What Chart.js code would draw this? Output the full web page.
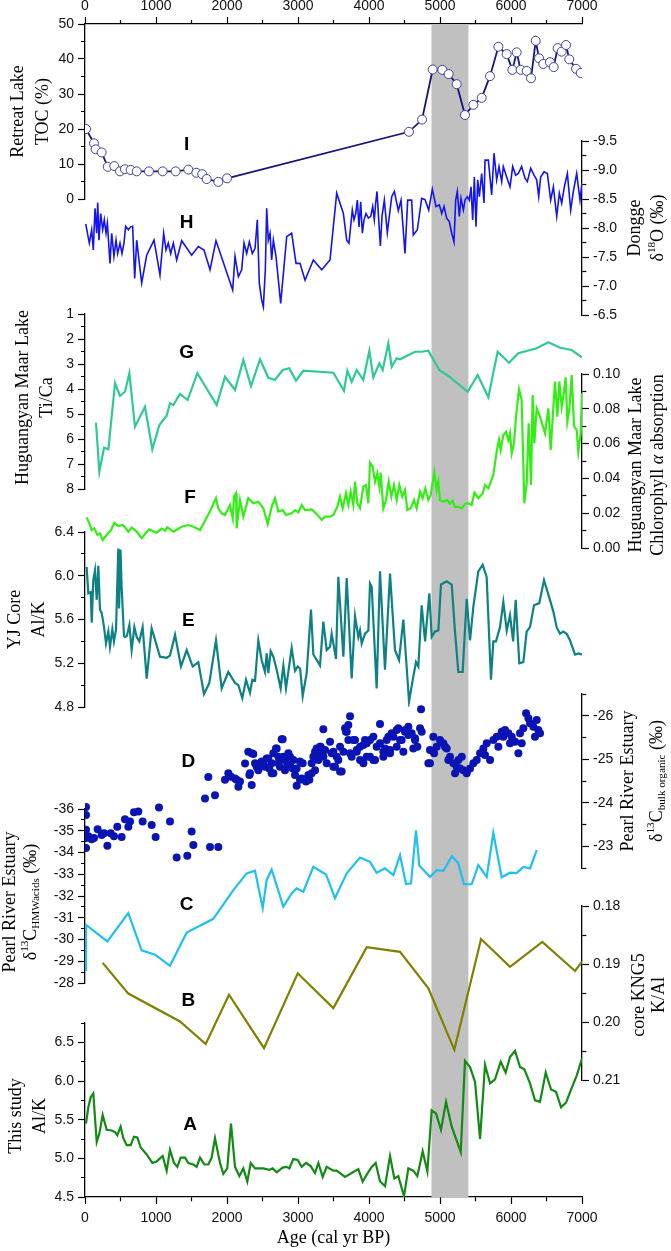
<!DOCTYPE html>
<html>
<head>
<meta charset="utf-8">
<script src="https://cdn.jsdelivr.net/npm/chart.js@4.4.1/dist/chart.umd.min.js"></script>
<style>
  html, body { margin: 0; padding: 0; background: #fff; }
  #wrap { width: 671px; height: 1251px; }
</style>
</head>
<body>
<div id="wrap"><canvas id="chart"></canvas></div>
<script>
// ---- data: [age (cal yr BP), value] ----
const shadedAges = [4880, 5400];

// I - Retreat Lake TOC (%)
const tocRetreat = [[14,20.0],[127,15.9],[150,14.2],[235,13.3],[320,9.2],[413,9.4],[493,7.9],[563,8.5],[643,8.3],[728,7.9],[901,7.9],[1094,7.9],[1277,7.9],[1455,8.4],[1568,7.5],[1652,7.1],[1714,5.7],[1878,4.9],[2000,5.9],[4563,19.2],[4747,22.7],[4897,37.0],[5033,36.9],[5122,35.7],[5235,32.8],[5352,24.0],[5470,26.9],[5587,28.9],[5704,35.1],[5822,43.5],[5939,41.4],[6019,36.9],[6080,41.9],[6136,36.9],[6221,36.6],[6282,34.5],[6348,45.2],[6395,40.2],[6455,38.6],[6549,39.1],[6601,37.7],[6657,43.1],[6713,42.1],[6775,44.0],[6821,39.9],[6916,37.2],[6982,36.0]];

// H - Dongge d18O (permil)
const d18oDongge = [[10,-8.07],[61,-7.74],[94,-7.97],[117,-7.62],[141,-8.34],[165,-7.91],[179,-8.44],[197,-7.79],[221,-8.25],[249,-7.97],[272,-8.14],[296,-7.91],[315,-8.08],[352,-7.39],[376,-7.91],[408,-7.51],[437,-7.79],[460,-7.56],[493,-7.74],[521,-7.56],[549,-7.74],[573,-8.03],[610,-7.97],[643,-8.02],[671,-8.03],[700,-7.13],[728,-7.79],[798,-7.05],[869,-7.53],[972,-7.79],[1056,-7.19],[1108,-7.91],[1141,-7.62],[1173,-7.74],[1207,-7.56],[1244,-7.74],[1291,-7.45],[1362,-7.78],[1502,-7.53],[1596,-7.68],[1676,-7.62],[1761,-7.28],[1845,-7.78],[2080,-6.93],[2113,-7.51],[2160,-7.16],[2207,-7.28],[2240,-7.74],[2277,-7.56],[2315,-7.76],[2357,-7.56],[2395,-7.65],[2427,-8.14],[2455,-7.05],[2488,-6.76],[2512,-6.64],[2540,-7.28],[2559,-8.34],[2582,-7.79],[2606,-7.91],[2629,-7.45],[2653,-7.79],[2690,-7.51],[2756,-6.70],[2841,-7.85],[2911,-7.91],[2972,-7.39],[3028,-7.39],[3099,-7.10],[3216,-7.45],[3334,-7.28],[3451,-7.45],[3545,-8.60],[3639,-8.25],[3686,-7.79],[3718,-7.74],[3765,-8.31],[3789,-8.14],[3813,-8.25],[3836,-8.48],[3859,-8.02],[3883,-8.45],[3906,-7.91],[3930,-8.14],[3958,-8.25],[3991,-8.17],[4024,-8.20],[4052,-8.37],[4075,-8.14],[4094,-8.43],[4113,-8.63],[4137,-8.14],[4160,-7.69],[4183,-8.20],[4216,-8.48],[4258,-7.92],[4320,-8.54],[4357,-8.63],[4413,-8.30],[4451,-8.48],[4507,-7.56],[4545,-8.48],[4601,-8.48],[4624,-7.88],[4681,-7.97],[4742,-8.51],[4789,-8.49],[4841,-8.31],[4892,-8.67],[4944,-8.37],[4991,-8.40],[5024,-8.25],[5057,-8.37],[5094,-8.17],[5131,-8.11],[5165,-7.91],[5197,-7.76],[5221,-8.48],[5244,-8.63],[5272,-8.20],[5296,-8.51],[5329,-8.31],[5352,-8.48],[5385,-8.54],[5413,-8.48],[5437,-8.71],[5460,-8.14],[5484,-8.88],[5507,-8.02],[5531,-8.83],[5554,-8.54],[5587,-8.94],[5620,-8.43],[5634,-9.17],[5681,-9.17],[5728,-8.57],[5761,-9.29],[5798,-8.83],[5831,-9.06],[5869,-8.80],[5892,-9.06],[5939,-8.88],[5986,-8.71],[6024,-9.06],[6066,-8.91],[6103,-8.94],[6150,-9.06],[6197,-8.86],[6230,-8.80],[6277,-9.03],[6324,-8.91],[6362,-8.83],[6390,-8.54],[6418,-8.88],[6465,-8.97],[6512,-8.94],[6559,-8.48],[6597,-8.71],[6644,-8.20],[6681,-8.60],[6714,-8.43],[6751,-8.71],[6794,-8.94],[6841,-8.31],[6878,-8.63],[6925,-8.94],[6972,-8.48],[7000,-8.77]];

// G - Huguangyan Maar Lake Ti/Ca
const tiCaHuguangyan = [[155,5.35],[202,7.31],[268,6.35],[329,6.41],[423,3.77],[493,4.28],[563,4.11],[625,3.37],[704,5.51],[845,4.71],[948,6.41],[1047,5.44],[1150,5.07],[1197,4.57],[1244,4.64],[1338,4.20],[1446,4.44],[1582,3.37],[1855,4.64],[1972,3.51],[2113,4.04],[2230,2.84],[2338,3.88],[2465,2.81],[2582,3.55],[2676,3.64],[2784,3.24],[2878,3.17],[2972,3.67],[3075,3.27],[3498,3.35],[3648,4.07],[3695,3.27],[3756,3.71],[3827,3.24],[3873,3.44],[3920,3.64],[4005,2.47],[4061,3.53],[4146,2.97],[4193,3.24],[4272,2.17],[4320,3.11],[4390,2.77],[4437,2.81],[4648,2.51],[4742,2.51],[4836,2.47],[4991,3.24],[5141,3.53],[5390,4.11],[5531,3.44],[5681,4.33],[5812,2.51],[5972,2.95],[6103,2.57],[6362,2.37],[6526,2.13],[6690,2.35],[6855,2.44],[7000,2.73]];

// F - Huguangyan Maar Lake chlorophyll a absorption
const chlHuguangyan = [[23,0.0176],[61,0.0142],[94,0.0103],[131,0.0113],[174,0.0075],[211,0.0084],[249,0.0046],[305,0.0075],[366,0.0103],[413,0.0145],[469,0.0126],[530,0.0132],[563,0.0119],[610,0.0094],[657,0.0117],[728,0.0094],[798,0.0056],[901,0.0107],[1009,0.0088],[1080,0.0111],[1127,0.0099],[1159,0.0119],[1244,0.0094],[1362,0.0122],[1455,0.0132],[1526,0.0122],[1620,0.0103],[1676,0.0145],[1770,0.0218],[1845,0.0286],[1878,0.0228],[1925,0.0199],[1972,0.0190],[2042,0.0247],[2080,0.0171],[2099,0.0295],[2127,0.0314],[2136,0.0113],[2183,0.0276],[2230,0.0180],[2300,0.0286],[2371,0.0257],[2441,0.0266],[2512,0.0228],[2573,0.0138],[2629,0.0237],[2676,0.0286],[2723,0.0209],[2784,0.0218],[2831,0.0190],[2911,0.0199],[2958,0.0218],[3005,0.0205],[3052,0.0247],[3099,0.0218],[3193,0.0222],[3254,0.0199],[3334,0.0161],[3381,0.0180],[3451,0.0180],[3498,0.0190],[3554,0.0237],[3592,0.0295],[3629,0.0228],[3676,0.0314],[3709,0.0247],[3742,0.0324],[3779,0.0247],[3803,0.0381],[3836,0.0257],[3873,0.0228],[3920,0.0352],[3958,0.0362],[3991,0.0257],[4014,0.0490],[4052,0.0467],[4085,0.0381],[4117,0.0429],[4146,0.0352],[4164,0.0433],[4202,0.0228],[4240,0.0276],[4277,0.0381],[4315,0.0295],[4352,0.0362],[4390,0.0276],[4427,0.0362],[4469,0.0295],[4507,0.0333],[4540,0.0218],[4587,0.0228],[4634,0.0276],[4671,0.0228],[4719,0.0324],[4756,0.0286],[4794,0.0343],[4836,0.0276],[4869,0.0305],[4920,0.0435],[4953,0.0333],[4976,0.0381],[5000,0.0276],[5047,0.0266],[5103,0.0276],[5141,0.0253],[5178,0.0272],[5211,0.0234],[5258,0.0237],[5305,0.0228],[5352,0.0253],[5390,0.0257],[5446,0.0247],[5484,0.0318],[5540,0.0286],[5601,0.0314],[5634,0.0362],[5681,0.0343],[5751,0.0420],[5798,0.0553],[5831,0.0621],[5855,0.0563],[5892,0.0649],[5930,0.0668],[5963,0.0621],[5986,0.0659],[6010,0.0544],[6042,0.0602],[6071,0.0755],[6113,0.0912],[6150,0.0851],[6188,0.0257],[6221,0.0372],[6249,0.0717],[6282,0.0362],[6305,0.0879],[6329,0.0602],[6362,0.0803],[6409,0.0755],[6479,0.0659],[6526,0.0803],[6559,0.0563],[6597,0.0812],[6620,0.0956],[6653,0.0755],[6681,0.0956],[6714,0.0812],[6737,0.0870],[6770,0.0981],[6794,0.0726],[6821,0.0793],[6855,0.0994],[6888,0.0701],[6925,0.0678],[6948,0.0553],[6982,0.0659],[7000,0.0889]];

// E - YJ core Al/K
const alkYJ = [[23,6.08],[47,5.84],[80,5.85],[95,5.57],[117,5.96],[141,6.05],[165,5.78],[188,6.09],[211,5.69],[235,5.66],[268,5.53],[296,5.38],[329,5.49],[352,5.35],[385,5.51],[408,5.40],[437,5.51],[469,6.25],[480,5.70],[500,6.24],[516,5.90],[549,5.45],[563,5.44],[590,5.45],[625,5.55],[657,5.32],[695,5.53],[728,5.44],[765,5.40],[812,5.53],[869,5.06],[939,5.52],[1056,5.26],[1150,5.25],[1197,5.27],[1268,5.46],[1352,5.17],[1432,5.32],[1517,5.17],[1596,5.21],[1676,4.92],[1751,5.02],[1845,5.41],[1925,4.97],[2018,5.12],[2113,5.02],[2160,5.00],[2216,4.88],[2268,5.05],[2324,4.93],[2357,5.05],[2395,5.04],[2441,5.41],[2488,5.23],[2535,5.12],[2559,5.29],[2582,5.11],[2615,5.31],[2653,5.26],[2700,5.14],[2756,4.97],[2794,5.18],[2831,4.97],[2911,5.34],[2958,5.13],[2996,5.17],[3030,5.15],[3066,4.90],[3122,5.11],[3183,5.69],[3216,5.28],[3310,5.18],[3357,5.58],[3404,5.32],[3451,5.35],[3474,5.47],[3535,5.24],[3568,5.99],[3639,5.26],[3686,5.98],[3756,5.06],[3803,5.63],[3850,5.44],[3873,5.50],[3897,5.38],[3944,5.47],[3991,5.50],[4014,5.93],[4038,5.90],[4108,4.97],[4155,6.04],[4225,5.14],[4296,6.02],[4366,5.32],[4423,5.23],[4484,5.60],[4564,4.85],[4625,5.08],[4662,5.21],[4695,5.17],[4742,5.73],[4790,5.40],[4850,5.84],[4883,5.44],[4930,5.49],[4977,5.50],[5014,5.92],[5094,5.95],[5165,5.92],[5210,5.50],[5258,5.12],[5319,5.12],[5376,5.79],[5423,5.41],[5470,5.72],[5540,6.04],[5601,6.10],[5657,5.99],[5718,5.05],[5751,5.40],[5789,5.40],[5845,5.53],[5892,5.76],[5940,5.50],[5986,5.64],[6030,5.40],[6066,5.78],[6117,5.20],[6174,5.21],[6221,5.49],[6268,5.53],[6324,5.73],[6399,5.75],[6465,5.96],[6549,5.78],[6597,5.67],[6643,5.53],[6690,5.47],[6737,5.49],[6784,5.47],[6831,5.41],[6902,5.28],[6949,5.29],[7000,5.28]];

// D - Pearl River Estuary d13C bulk organic (permil), discrete samples
const d13cBulk = [[14,-23.90],[14,-23.72],[14,-23.38],[14,-23.19],[14,-22.96],[47,-23.23],[94,-23.16],[127,-23.19],[178,-23.39],[235,-23.26],[268,-23.30],[315,-23.01],[362,-23.30],[408,-23.23],[455,-23.45],[516,-23.21],[563,-23.62],[610,-23.45],[634,-23.57],[690,-23.78],[751,-23.80],[812,-23.57],[939,-23.49],[995,-23.21],[1042,-23.89],[1197,-23.57],[1291,-22.74],[1441,-22.78],[1502,-23.34],[1526,-23.03],[1761,-22.98],[1878,-22.98],
  [1690,-24.10],[1737,-24.59],[1831,-24.17],[1972,-24.53],[2019,-24.68],[2056,-24.60],[2113,-24.56],[2136,-24.53],[2160,-24.37],[2183,-24.49],[2254,-24.90],[2300,-25.17],[2315,-24.64],[2324,-24.68],[2348,-25.14],[2348,-24.41],[2371,-25.12],[2395,-24.91],[2418,-24.83],[2441,-24.75],[2465,-24.91],[2488,-24.95],[2512,-24.87],[2535,-24.83],[2559,-25.02],[2582,-25.02],[2596,-24.79],[2629,-24.68],[2629,-24.91],[2653,-25.14],[2653,-24.68],[2690,-25.25],[2700,-25.25],[2723,-24.91],[2723,-25.06],[2746,-24.83],[2770,-25.46],[2784,-25.46],[2794,-25.06],[2817,-24.75],[2817,-24.98],[2850,-24.87],[2864,-25.14],[2887,-24.87],[2887,-25.06],[2925,-24.79],[2934,-24.98],[2958,-24.64],[2981,-24.79],[2981,-24.39],[3028,-24.95],[3028,-24.53],[3052,-24.56],[3066,-24.91],[3099,-24.53],[3113,-24.49],[3146,-24.64],[3160,-24.53],[3193,-24.91],[3193,-24.68],[3216,-25.06],[3240,-25.17],[3240,-24.75],[3263,-25.25],[3287,-24.98],[3287,-25.14],[3310,-25.29],[3320,-25.29],[3357,-25.69],[3357,-25.06],[3381,-25.21],[3404,-24.91],
  [3451,-25.40],[3474,-25.14],[3498,-25.17],[3498,-24.83],[3521,-24.83],[3545,-25.06],[3568,-24.98],[3592,-24.72],[3592,-25.29],[3615,-24.72],[3639,-25.17],[3662,-25.71],[3676,-25.63],[3686,-25.63],[3709,-25.79],[3709,-25.44],[3733,-25.14],[3733,-25.99],[3756,-25.06],[3780,-25.44],[3803,-25.44],[3827,-25.21],[3827,-25.17],[3874,-24.98],[3874,-25.29],[3921,-25.33],[3921,-24.91],[3944,-25.44],[3968,-25.06],[3968,-25.37],[4014,-25.44],[4014,-25.06],[4061,-25.52],[4061,-24.98],[4085,-24.98],[4108,-25.29],[4155,-25.81],[4155,-25.37],[4202,-25.17],[4202,-25.06],[4226,-25.25],[4249,-25.44],[4273,-25.52],[4296,-25.21],[4296,-25.14],[4320,-25.60],[4343,-25.52],[4390,-25.67],[4390,-25.29],[4413,-25.71],[4437,-25.44],[4460,-25.44],[4484,-25.17],[4507,-25.63],[4507,-25.67],[4554,-25.56],[4554,-25.75],[4601,-25.60],[4624,-25.25],[4648,-25.48],[4648,-25.44],[4681,-25.29],[4719,-25.71],[4733,-26.15],[4742,-25.63],[4836,-24.91],[4859,-25.21],[4859,-24.91],[4906,-25.52],[4916,-25.14],[4953,-25.29],[5000,-25.44],[5047,-25.37],[5071,-25.29],[5094,-25.25],[5118,-24.98],[5141,-25.06],[5188,-24.91],[5212,-24.68],[5235,-24.83],[5259,-24.98],[5282,-24.79],[5306,-25.06],[5329,-24.75],[5376,-24.68],[5423,-24.79],[5470,-24.91],[5517,-24.98],[5564,-25.14],[5611,-25.25],[5634,-25.10],[5658,-25.37],[5705,-24.98],[5752,-25.44],[5799,-25.52],[5822,-25.29],[5869,-25.63],[5892,-25.52],[5916,-25.67],[5963,-25.60],[5986,-25.37],[6010,-25.52],[6057,-25.40],[6104,-25.14],[6127,-25.60],[6151,-25.37],[6174,-25.71],[6212,-26.06],[6245,-25.94],[6268,-25.83],[6315,-25.75],[6338,-25.52],[6362,-25.90],[6385,-25.67],[6409,-25.60]];

// C - Pearl River Estuary d13C HMW acids (permil)
const d13cHmw = [[0,-28.6],[14,-30.67],[315,-29.91],[610,-31.21],[798,-29.50],[986,-29.30],[1197,-28.79],[1432,-30.32],[1807,-30.95],[2089,-32.27],[2277,-33.04],[2395,-33.16],[2503,-31.44],[2559,-32.73],[2629,-33.22],[2793,-31.51],[2911,-32.12],[2981,-32.35],[3075,-32.20],[3216,-33.34],[3395,-32.99],[3521,-31.90],[3686,-33.04],[3873,-33.77],[4014,-33.57],[4108,-33.07],[4225,-33.27],[4343,-32.96],[4437,-33.88],[4521,-32.55],[4592,-32.58],[4662,-35.02],[4709,-33.39],[4860,-32.88],[4954,-33.19],[5047,-33.16],[5169,-33.83],[5258,-33.50],[5338,-32.54],[5446,-32.54],[5540,-33.42],[5658,-32.88],[5751,-34.90],[5869,-32.86],[5986,-33.07],[6080,-33.05],[6174,-33.34],[6268,-33.27],[6362,-34.11]];

// B - core KNG5 K/Al
const kalKNG5 = [[249,0.1898],[610,0.1951],[1338,0.1999],[1700,0.2038],[2028,0.1953],[2521,0.2045],[2996,0.1916],[3498,0.1976],[3968,0.1871],[4437,0.1879],[4836,0.1942],[5202,0.2048],[5578,0.1857],[5986,0.1905],[6441,0.1862],[6902,0.1912],[7000,0.1896]];

// A - this study Al/K
const alkThisStudy = [[14,5.45],[47,5.66],[80,5.79],[117,5.84],[165,5.21],[202,5.32],[249,5.56],[305,5.37],[376,5.36],[423,5.34],[455,5.30],[502,5.41],[540,5.26],[587,5.17],[643,5.17],[690,5.28],[737,5.27],[784,5.14],[869,5.05],[948,4.94],[1009,4.96],[1094,5.03],[1150,4.84],[1197,5.11],[1254,4.94],[1300,4.89],[1347,5.01],[1409,5.01],[1455,4.94],[1526,4.92],[1573,4.89],[1620,5.01],[1681,4.92],[1737,4.92],[1784,5.01],[1831,5.26],[1902,4.94],[1948,4.80],[2004,4.87],[2056,5.45],[2113,4.89],[2174,4.77],[2230,4.87],[2286,4.70],[2334,4.94],[2395,4.87],[2512,4.87],[2596,4.85],[2643,4.87],[2700,4.82],[2784,4.88],[2840,4.89],[2878,4.87],[2934,4.99],[2996,4.98],[3052,4.89],[3113,4.94],[3178,4.90],[3240,4.81],[3287,4.94],[3348,4.76],[3404,4.89],[3498,4.84],[3545,4.84],[3662,4.76],[3756,4.81],[3850,4.86],[3911,4.70],[3968,4.79],[4038,4.89],[4094,4.94],[4155,4.70],[4226,4.64],[4296,5.03],[4357,4.74],[4413,4.77],[4493,4.51],[4554,4.87],[4624,4.84],[4681,4.77],[4756,5.09],[4822,4.83],[4883,5.62],[4944,5.58],[5014,5.37],[5085,5.73],[5165,5.41],[5292,5.08],[5352,6.26],[5423,6.18],[5493,5.99],[5564,5.25],[5634,6.21],[5705,5.97],[5775,6.02],[5855,6.25],[5925,6.11],[5986,6.31],[6057,6.39],[6127,6.18],[6188,6.15],[6268,5.97],[6338,5.75],[6409,5.73],[6489,6.11],[6564,5.89],[6634,5.86],[6705,5.66],[6775,5.72],[6841,5.88],[6925,6.07],[7000,6.29]];

// ---- styling helpers ----
const sans = "'Liberation Sans', Arial, sans-serif";
const serif = "'Liberation Serif', 'Times New Roman', serif";
const isMajor = (v, major) => Math.abs(v / major - Math.round(v / major)) < 1e-6;
const toXY = rows => rows.map(([x, y]) => ({x, y}));

// one visible value axis inside a vertical stack
function valueAxis({position, weight, stackWeight, min, max, step, major, digits, reverse}) {
  const outerFirst = position === 'left' || position === 'top';
  const horizontal = position === 'top' || position === 'bottom';
  const pad = {top: 2, bottom: 6, left: 4, right: 4}[position];
  return {
    type: 'linear', position, weight, min, max, reverse: !!reverse,
    stack: horizontal ? undefined : 'col', stackWeight,
    border: {display: true, color: '#000', width: 1.3},
    grid: {
      drawOnChartArea: false, drawTicks: true, tickLength: 7, tickWidth: 1.2, tickColor: '#000',
      tickBorderDash: ctx => (ctx.tick && !isMajor(ctx.tick.value, major)) ? (outerFirst ? [0, 3, 4, 60] : [4, 60]) : []
    },
    ticks: {
      stepSize: step, autoSkip: false, maxRotation: 0, padding: pad, color: '#111',
      font: {family: sans, size: 14},
      callback: v => isMajor(v, major) ? Number(v).toFixed(digits) : ''
    },
    afterFit: s => {
      if (position === 'left') s.width = 85;
      else if (position === 'right') s.width = 89;
      else if (position === 'top') s.height = 24;
      else s.height = 54;
    }
  };
}

// empty spacer in a stack
const gapAxis = (position, weight, stackWeight) =>
  ({type: 'linear', position, weight, stack: 'col', stackWeight, display: false, min: 0, max: 1});

const scales = {
  x: valueAxis({position: 'bottom', min: 0, max: 7000, step: 500, major: 1000, digits: 0}),
  x2: valueAxis({position: 'top', min: 0, max: 7000, step: 500, major: 1000, digits: 0}),
  // left column, top to bottom (higher weight placed first)
  yI: valueAxis({position: 'left', weight: 9, stackWeight: 175, min: 0, max: 50, step: 5, major: 10, digits: 0}),
  gL1: gapAxis('left', 8, 115),
  yG: valueAxis({position: 'left', weight: 7, stackWeight: 175, min: 1, max: 8, step: 0.5, major: 1, digits: 0, reverse: true}),
  gL2: gapAxis('left', 6, 43),
  yE: valueAxis({position: 'left', weight: 5, stackWeight: 175, min: 4.8, max: 6.4, step: 0.2, major: 0.4, digits: 1}),
  gL3: gapAxis('left', 4, 102),
  yC: valueAxis({position: 'left', weight: 3, stackWeight: 174, min: -36, max: -28, step: 0.5, major: 1, digits: 0, reverse: true}),
  gL4: gapAxis('left', 2, 40),
  yA: valueAxis({position: 'left', weight: 1, stackWeight: 174, min: 4.5, max: 6.75, step: 0.25, major: 0.5, digits: 1}),
  // right column, top to bottom (lower weight placed first)
  gR0: gapAxis('right', 1, 117),
  yH: valueAxis({position: 'right', weight: 2, stackWeight: 174, min: -9.5, max: -6.5, step: 0.25, major: 0.5, digits: 1, reverse: true}),
  gR1: gapAxis('right', 3, 59),
  yF: valueAxis({position: 'right', weight: 4, stackWeight: 174, min: 0, max: 0.1, step: 0.01, major: 0.02, digits: 2}),
  gR2: gapAxis('right', 5, 146),
  yD: valueAxis({position: 'right', weight: 6, stackWeight: 174, min: -26.5, max: -22.5, step: 0.5, major: 1, digits: 0, reverse: true}),
  gR3: gapAxis('right', 7, 38),
  yB: valueAxis({position: 'right', weight: 8, stackWeight: 174, min: 0.18, max: 0.21, step: 0.005, major: 0.01, digits: 2, reverse: true}),
  gR4: gapAxis('right', 9, 117)
};

const line = (rows, yAxisID, color, width) => ({
  data: toXY(rows), yAxisID, xAxisID: 'x', borderColor: color, backgroundColor: color,
  borderWidth: width, pointRadius: 0, tension: 0
});

const datasets = [
  line(kalKNG5, 'yB', '#808000', 2.2),
  line(alkThisStudy, 'yA', '#138a13', 2.2),
  line(d13cHmw, 'yC', '#1fbff0', 2.2),
  {data: toXY(d13cBulk), yAxisID: 'yD', xAxisID: 'x', showLine: false, pointRadius: 4,
   pointBackgroundColor: '#0a14b4', pointBorderColor: '#0a14b4', pointBorderWidth: 0},
  line(alkYJ, 'yE', '#0e8282', 2.2),
  line(chlHuguangyan, 'yF', '#33ee14', 2.2),
  line(tiCaHuguangyan, 'yG', '#2ec996', 2.2),
  line(d18oDongge, 'yH', '#1414ee', 1.6),
  Object.assign(line(tocRetreat, 'yI', '#16167e', 1.8), {
    pointRadius: 4.5, pointBackgroundColor: '#fff', pointBorderColor: '#40409a', pointBorderWidth: 1
  })
];

// vertical axis titles: x is the screen column of each text line
const axisTitles = [
  {axis: 'yI', xs: [18, 43], dy: 0, lines: [[{t: 'Retreat Lake'}], [{t: 'TOC (%)'}]]},
  {axis: 'yG', xs: [23, 47], dy: -4, lines: [[{t: 'Huguangyan Maar Lake'}], [{t: 'Ti/Ca'}]]},
  {axis: 'yE', xs: [15, 39], dy: 0, lines: [[{t: 'YJ Core'}], [{t: 'Al/K'}]]},
  {axis: 'yC', xs: [10, 31], dy: 6, lines: [[{t: 'Pearl River Estuary'}],
    [{t: 'δ'}, {t: '13', sup: true}, {t: 'C'}, {t: 'HMWacids', sub: true}, {t: ' (‰)'}]]},
  {axis: 'yA', xs: [16, 40], dy: 6, lines: [[{t: 'This study'}], [{t: 'Al/K'}]]},
  {axis: 'yH', xs: [635, 658], dy: 0, lines: [[{t: 'Dongge'}],
    [{t: 'δ'}, {t: '18', sup: true}, {t: 'O (‰)'}]]},
  {axis: 'yF', xs: [636, 658], dy: 4, lines: [[{t: 'Huguangyan Maar Lake'}],
    [{t: 'Chlorophyll '}, {t: 'α', italic: true}, {t: ' absorption'}]]},
  {axis: 'yD', xs: [628, 657], dy: 0, lines: [[{t: 'Pearl River Estuary'}],
    [{t: 'δ'}, {t: '13', sup: true}, {t: 'C'}, {t: 'bulk organic', sub: true}, {t: ' (‰)'}]]},
  {axis: 'yB', xs: [639, 659], dy: 2, lines: [[{t: 'core KNG5'}], [{t: 'K/Al'}]]}
];

// panel letters in data coordinates of their own axis
const panelLetters = [
  ['I', 'yI', 1432, 15.4], ['H', 'yH', 1432, -8.09], ['G', 'yG', 1432, 2.57],
  ['F', 'yF', 1479, 0.0291], ['E', 'yE', 1455, 5.59], ['D', 'yD', 1455, -24.95],
  ['C', 'yC', 1432, -31.59], ['B', 'yB', 1455, 0.1964], ['A', 'yA', 1479, 5.44]
];

function drawRich(ctx, segs, cx, cy, size, rotate) {
  ctx.save();
  ctx.translate(cx, cy);
  if (rotate) ctx.rotate(-Math.PI / 2);
  const parts = segs.map(s => {
    const sz = (s.sup || s.sub) ? size * 0.62 : size;
    const font = `${s.italic ? 'italic ' : ''}${sz}px ${serif}`;
    ctx.font = font;
    return {t: s.t, font, w: ctx.measureText(s.t).width, dy: s.sup ? -size * 0.32 : (s.sub ? size * 0.3 : 0)};
  });
  let x = -parts.reduce((a, p) => a + p.w, 0) / 2;
  ctx.fillStyle = '#000';
  ctx.textAlign = 'left';
  ctx.textBaseline = 'middle';
  parts.forEach(p => { ctx.font = p.font; ctx.fillText(p.t, x, p.dy); x += p.w; });
  ctx.restore();
}

const decorations = {
  id: 'decorations',
  beforeDatasetsDraw(chart) {
    const {ctx, chartArea, scales: s} = chart;
    const x0 = s.x.getPixelForValue(shadedAges[0]);
    const x1 = s.x.getPixelForValue(shadedAges[1]);
    ctx.save();
    ctx.fillStyle = '#c0c0c0';
    ctx.fillRect(x0, chartArea.top, x1 - x0, chartArea.bottom - chartArea.top);
    ctx.restore();
  },
  afterDraw(chart) {
    const {ctx, chartArea, scales: s} = chart;
    axisTitles.forEach(t => {
      const sc = s[t.axis];
      const cy = (sc.top + sc.bottom) / 2 + t.dy;
      t.lines.forEach((segs, i) => drawRich(ctx, segs, t.xs[i], cy, 18, true));
    });
    drawRich(ctx, [{t: 'Age (cal yr BP)'}], (chartArea.left + chartArea.right) / 2, s.x.bottom - 13, 18, false);
    ctx.save();
    ctx.font = `bold 19px ${sans}`;
    ctx.fillStyle = '#000';
    ctx.textAlign = 'center';
    ctx.textBaseline = 'middle';
    panelLetters.forEach(([txt, axis, age, val]) => {
      ctx.fillText(txt, s.x.getPixelForValue(age), s[axis].getPixelForValue(val));
    });
    ctx.restore();
  }
};

new Chart(document.getElementById('chart'), {
  type: 'line',
  data: {datasets},
  options: {
    responsive: true,
    maintainAspectRatio: false,
    animation: false,
    layout: {padding: 0},
    plugins: {legend: {display: false}, tooltip: {enabled: false}},
    scales
  },
  plugins: [decorations]
});
</script>
</body>
</html>
